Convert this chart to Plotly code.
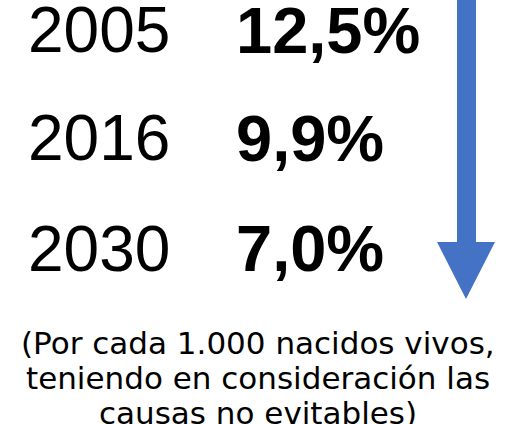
import plotly.graph_objects as go

years = ["2005", "2016", "2030"]
rates = [12.5, 9.9, 7.0]
note_lines = ["(Por cada 1.000 nacidos vivos,",
              "teniendo en consideración las",
              "causas no evitables)"]

W, H = 523, 424
row_y = [30, 138, 248.5]
note_y = [343, 378, 412.5]

fig = go.Figure()
anns = []
for yr, v, yy in zip(years, rates, row_y):
    anns.append(dict(x=26, y=yy, text=yr, showarrow=False, xanchor="left", yanchor="middle",
                     font=dict(family="Liberation Sans", size=64, color="black")))
    lab = f"{v:.1f}%".replace(".", ",")
    anns.append(dict(x=234, y=yy, text=f"<b>{lab}</b>", showarrow=False, xanchor="left", yanchor="middle",
                     font=dict(family="Liberation Sans", size=65, color="black")))
for t, yy in zip(note_lines, note_y):
    anns.append(dict(x=258, y=yy, text=t, showarrow=False, xanchor="center", yanchor="middle",
                     font=dict(family="DejaVu Sans", size=31, color="black")))

arrow = "M 457 -2 L 476 -2 L 476 242 L 495 242 L 466 299 L 437 242 L 457 242 Z"
fig.add_shape(type="path", path=arrow, xref="x", yref="y",
              fillcolor="#4472C4", line=dict(width=0))

fig.update_layout(width=W, height=H, margin=dict(l=0, r=0, t=0, b=0),
                  paper_bgcolor="white", plot_bgcolor="white", showlegend=False,
                  annotations=anns,
                  xaxis=dict(range=[0, W], visible=False, fixedrange=True),
                  yaxis=dict(range=[H, 0], visible=False, fixedrange=True))
fig.write_html("out.html", config={"displayModeBar": False, "staticPlot": True},
               post_script="document.body.style.margin='0px';document.body.style.overflow='hidden';")
